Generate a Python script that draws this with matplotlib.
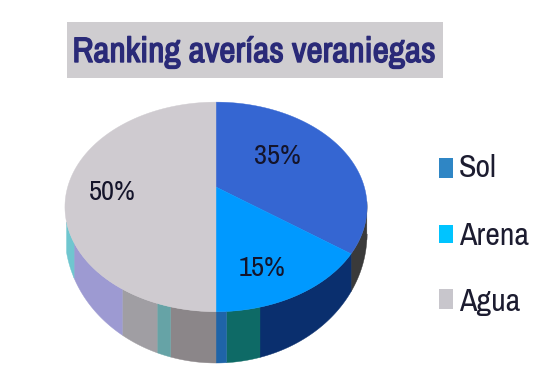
import numpy as np
import matplotlib
matplotlib.use("Agg")
import matplotlib.pyplot as plt
import matplotlib.patheffects as pe
from matplotlib.patches import Polygon, Rectangle

title = "Ranking averías veraniegas"
categories = ["Sol", "Arena", "Agua"]
shares = [35, 15, 50]
labels = ["35%", "15%", "50%"]
top_colors = ["#3566d2", "#0099ff", "#cfcbd0"]
legend_colors = ["#2f86c5", "#00c4ff", "#c8c6cc"]
side_edges = [-8, -36, -76, -86.7, -90, -104.5, -109, -122, -150, -161]
side_colors = ["#3a3a3a", "#0a2f6e", "#0e6a66", "#1f64a8", "#8b8689",
               "#66a3a6", "#a09ea3", "#9d9ad2", "#6fc6cf"]

FONT = ["Archivo Narrow", "Liberation Sans", "DejaVu Sans"]
CX, CY, A, B, K = 216, 187, 148.3, 101, 0.19


def top_pt(deg):
    t = np.radians(np.asarray(deg, float))
    d = 1 + K * np.sin(t)
    return CX + A * np.cos(t) / d, CY - B * np.sin(t) / d


def rim_y(x):
    u = np.clip((x - CX) / 151, -1, 1)
    return 234 + 129 * np.sqrt(1 - u ** 2)


fig = plt.figure(figsize=(5.5, 3.87), dpi=100, facecolor="white")
ax = fig.add_axes([0, 0, 1, 1])
ax.set_xlim(0, 550)
ax.set_ylim(387, 0)
ax.axis("off")

# title box
ax.add_patch(Rectangle((67, 22), 376, 56, fc="#cfcdd0", ec="none"))
ax.text(254, 52, title, ha="center", va="center", family=FONT,
        fontsize=25.5, color="#2a2a78",
        path_effects=[pe.withStroke(linewidth=1.0, foreground="#2a2a78")])

# side band
for a0, a1, c in zip(side_edges[:-1], side_edges[1:], side_colors):
    ts = np.linspace(a0, a1, 40)
    x, y = top_pt(ts)
    pts = np.r_[np.c_[x, y], np.c_[x, rim_y(x)][::-1]]
    ax.add_patch(Polygon(pts, fc=c, ec=c, lw=0.3))

# top surface
start = 90.0
for s, c in zip(shares, top_colors):
    end = start - s * 3.6
    x, y = top_pt(np.linspace(start, end, 120))
    pts = np.r_[[[CX, CY]], np.c_[x, y]]
    ax.add_patch(Polygon(pts, fc=c, ec=c, lw=0.3))
    start = end

# data labels
for (x, y), t in zip([(277, 157), (262, 269), (112, 192)], labels):
    ax.text(x, y, t, ha="center", va="center", family=FONT, fontsize=20.5, color="#14142a")

# legend
for (ys, h, ty), name, c in zip([(158, 20, 168), (225, 18, 236), (289, 20, 302)],
                                categories, legend_colors):
    ax.add_patch(Rectangle((439, ys), 14, h, fc=c, ec="none"))
    ax.text(459, ty, name, ha="left", va="center", family=FONT, fontsize=23, color="#1c1c30")

fig.savefig("out.png", dpi=100)
